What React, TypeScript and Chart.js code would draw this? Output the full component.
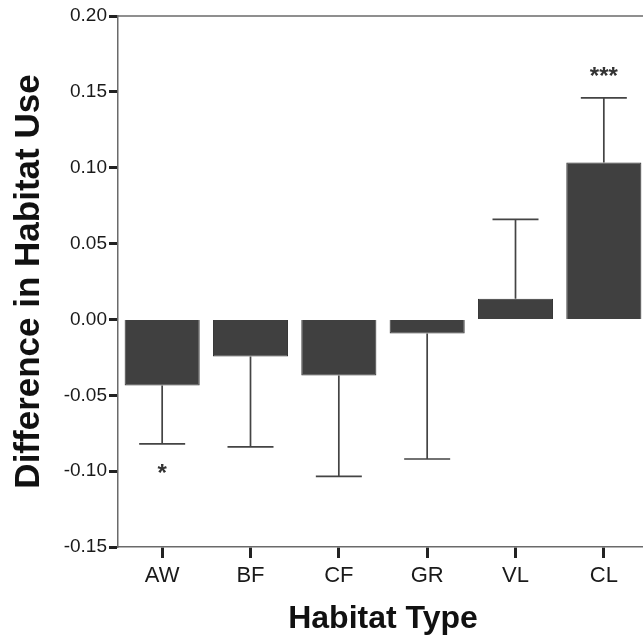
import React, { useEffect, useRef } from "react";
import { Chart, registerables } from "chart.js";

Chart.register(...registerables);

const categories = ["AW", "BF", "CF", "GR", "VL", "CL"];
const meanDiff = [-0.0435, -0.0245, -0.037, -0.0093, 0.0137, 0.1035];
const errorEnd = [-0.082, -0.084, -0.1035, -0.092, 0.066, 0.146];
const significance = ["*", "", "", "", "", "***"];
const yTicks = [-0.15, -0.1, -0.05, 0, 0.05, 0.1, 0.15, 0.2];

const FONT = "'Liberation Sans', Arial, Helvetica, sans-serif";

const errorBarPlugin = {
  id: "errorBars",
  afterDatasetsDraw(chart: any) {
    const meta = chart.getDatasetMeta(0);
    const y = chart.scales.y;
    const ctx = chart.ctx;
    const area = chart.chartArea;
    ctx.save();
    // top frame line
    ctx.strokeStyle = "#6a6a6a";
    ctx.lineWidth = 1.5;
    ctx.beginPath();
    ctx.moveTo(area.left, area.top);
    ctx.lineTo(area.right, area.top);
    ctx.stroke();

    ctx.strokeStyle = "#444";
    ctx.lineWidth = 1.7;
    meta.data.forEach((bar: any, i: number) => {
      const x = bar.x;
      const y0 = y.getPixelForValue(meanDiff[i]);
      const y1 = y.getPixelForValue(errorEnd[i]);
      ctx.beginPath();
      ctx.moveTo(x, y0);
      ctx.lineTo(x, y1);
      ctx.moveTo(x - 23, y1);
      ctx.lineTo(x + 23, y1);
      ctx.stroke();
      if (significance[i]) {
        ctx.fillStyle = "#333";
        ctx.font = `bold 24px ${FONT}`;
        ctx.textAlign = "center";
        ctx.textBaseline = "middle";
        const ty = meanDiff[i] < 0 ? y1 + 31 : y1 - 21;
        ctx.fillText(significance[i], x, ty);
      }
    });
    ctx.restore();
  },
};

export default function App() {
  const ref = useRef<HTMLCanvasElement>(null);
  useEffect(() => {
    if (!ref.current) return;
    const chart = new Chart(ref.current, {
      type: "bar",
      data: {
        labels: categories,
        datasets: [
          {
            data: meanDiff,
            backgroundColor: "#404040",
            borderColor: "#303030",
            borderWidth: 1,
            categoryPercentage: 1,
            barPercentage: 0.85,
          },
        ],
      },
      options: {
        responsive: false,
        animation: false,
        events: [],
        layout: { padding: { top: 16, left: 0, right: 0, bottom: 0 } },
        plugins: { legend: { display: false }, tooltip: { enabled: false } },
        scales: {
          x: {
            type: "category",
            offset: true,
            grid: {
              display: true,
              offset: false,
              drawOnChartArea: false,
              tickLength: 11,
              tickWidth: 3,
              tickColor: "#222",
            },
            border: { color: "#6a6a6a", width: 1.5 },
            ticks: { font: { family: FONT, size: 22 }, color: "#1a1a1a", padding: 5 },
            title: {
              display: true,
              text: "Habitat Type",
              font: { family: FONT, size: 32, weight: "bold" },
              color: "#111",
              padding: { top: 0, bottom: 1 },
            },
            afterFit: (scale: any) => {
              scale.height = 92;
            },
          },
          y: {
            min: -0.15,
            max: 0.2,
            afterBuildTicks: (scale: any) => {
              scale.ticks = yTicks.map((v) => ({ value: v }));
            },
            grid: {
              display: true,
              drawOnChartArea: false,
              tickLength: 9,
              tickWidth: 3,
              tickColor: "#222",
            },
            border: { color: "#6a6a6a", width: 1.5 },
            ticks: {
              font: { family: FONT, size: 19 },
              color: "#1a1a1a",
              padding: 2,
              callback: (v: any) => Number(v).toFixed(2),
            },
            title: {
              display: true,
              text: "Difference in Habitat Use",
              font: { family: FONT, size: 35, weight: "bold" },
              color: "#111",
              padding: { top: 8, bottom: 0 },
            },
            afterFit: (scale: any) => {
              scale.width = 118;
            },
          },
        },
      },
      plugins: [errorBarPlugin],
    });
    return () => chart.destroy();
  }, []);
  return (
    <div
      style={{
        position: "fixed",
        left: 0,
        top: 0,
        width: 643,
        height: 639,
        overflow: "hidden",
        background: "#fff",
      }}
    >
      <canvas ref={ref} width={648} height={639} style={{ width: 648, height: 639, display: "block" }} />
    </div>
  );
}
